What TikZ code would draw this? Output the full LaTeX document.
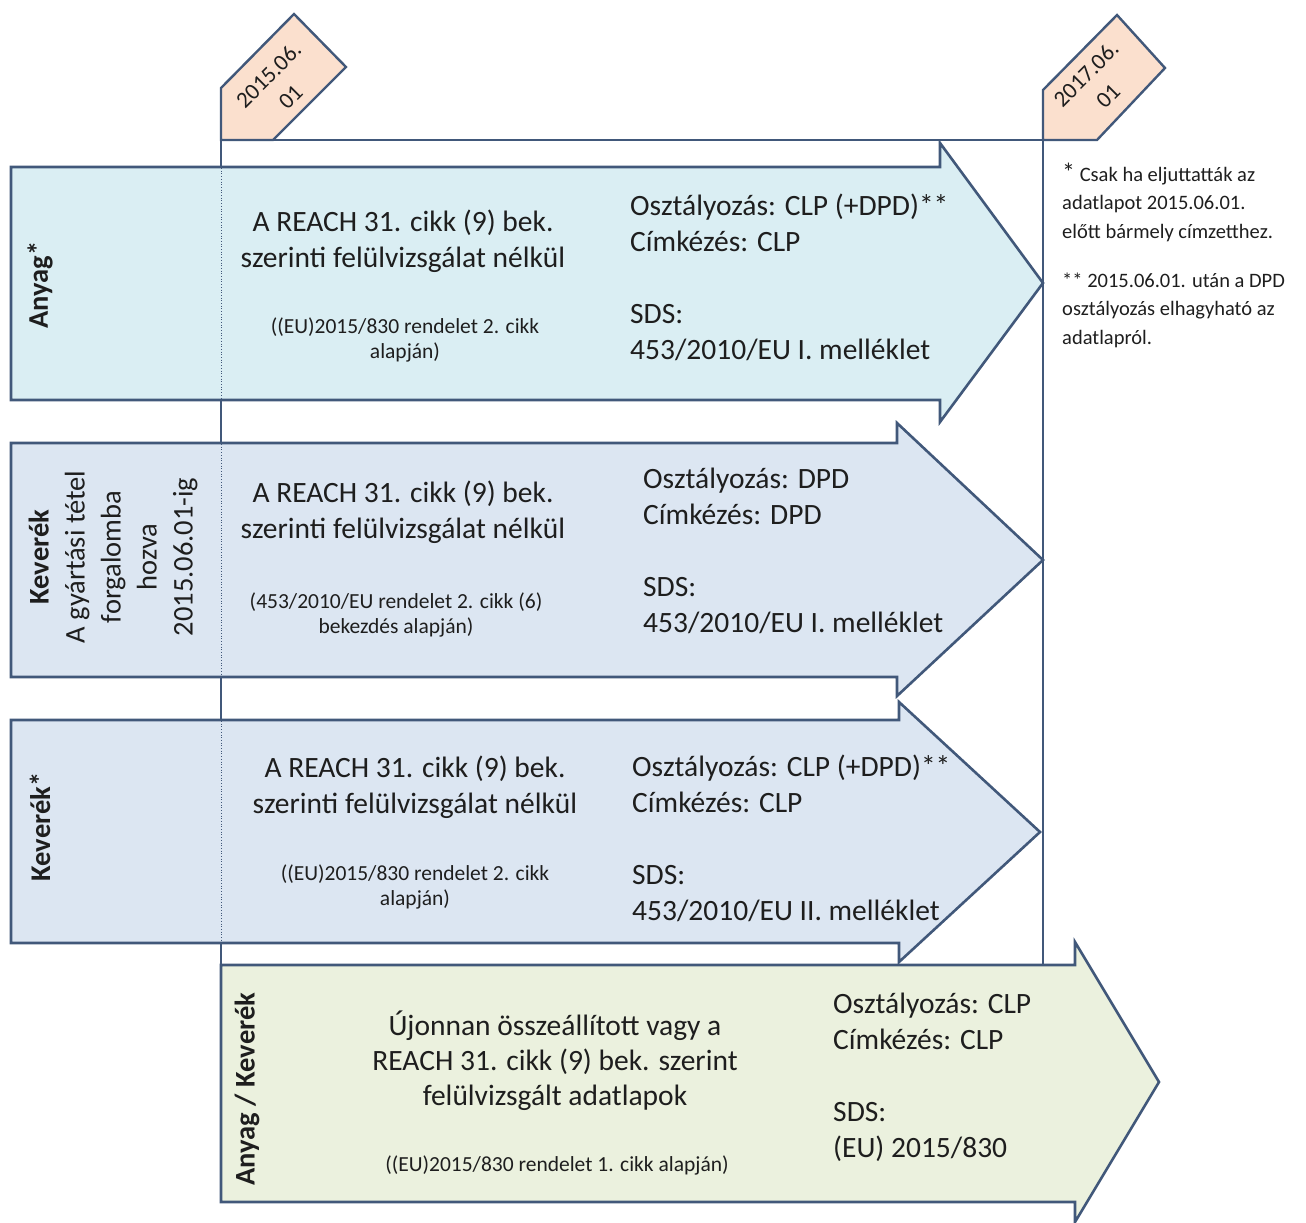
\documentclass[tikz,border=0pt]{standalone}
\usepackage{fontspec}
\setmainfont{Carlito}
\definecolor{linec}{HTML}{41587A}
\definecolor{fillA}{HTML}{DAEEF3}
\definecolor{fillB}{HTML}{DCE6F2}
\definecolor{fillC}{HTML}{EBF1DE}
\definecolor{tagfill}{HTML}{FBE0CE}
\definecolor{txt}{HTML}{1E1E1E}
\begin{document}
\begin{tikzpicture}[x=1pt,y=-1pt,
  frame/.style={draw=linec,line width=2.4pt},
  arrowbox/.style={draw=linec,line width=2.6pt,line join=miter},
  tagbox/.style={draw=linec,line width=2.4pt,fill=tagfill,line join=miter},
  guide/.style={draw=linec,line width=0.7pt,dotted},
  maintxt/.style={text=txt,font=\fontsize{29.5}{36}\selectfont,align=center,inner sep=0pt},
  smalltxt/.style={text=txt,font=\fontsize{21.5}{25}\selectfont,align=center,inner sep=0pt},
  sidetxt/.style={text=txt,font=\fontsize{29.5}{36}\selectfont,align=left,inner sep=0pt,anchor=west},
  labtxt/.style={text=txt,font=\fontsize{28.5}{36}\selectfont,align=center,inner sep=0pt,rotate=90},
  notetxt/.style={text=txt,font=\fontsize{20.5}{28.5}\selectfont,align=left,inner sep=0pt,anchor=west},
  tagtxt/.style={text=txt,font=\fontsize{23}{31}\selectfont,align=center,inner sep=0pt,rotate=45}
]
\useasboundingbox (0,0) rectangle (1306,1223);

% timeline frame
\draw[frame] (221,140) -- (221,965);
\draw[frame] (221,140) -- (1043,140);
\draw[frame] (1043,140) -- (1043,965);

% date tags
\draw[tagbox] (221,140) -- (273,140) -- (346,67) -- (294,14) -- (221,88) -- cycle;
\draw[tagbox] (1043,140) -- (1097,140) -- (1165,68) -- (1117,15) -- (1043,90) -- cycle;
\node[tagtxt] (t1) at (279.5,86) {2015.06.\\01};
\node[tagtxt] (t2) at (1097,85) {2017.06.\\01};

% arrows
\filldraw[arrowbox,fill=fillA] (11,167) -- (940,167) -- (940,143) -- (1043,283) -- (940,422) -- (940,400) -- (11,400) -- cycle;
\filldraw[arrowbox,fill=fillB] (11,443) -- (897,443) -- (897,423) -- (1043,560) -- (897,696) -- (897,677) -- (11,677) -- cycle;
\filldraw[arrowbox,fill=fillB] (11,720) -- (899,720) -- (899,702) -- (1040,832) -- (899,962) -- (899,943) -- (11,943) -- cycle;
\filldraw[arrowbox,fill=fillC] (221,965) -- (1075,965) -- (1075,942) -- (1159,1082) -- (1075,1222) -- (1075,1202) -- (221,1202) -- cycle;

% dotted guide inside arrows
\draw[guide] (221,168) -- (221,399);
\draw[guide] (221,444) -- (221,676);
\draw[guide] (221,721) -- (221,942);

% arrow 1
\node[labtxt,font=\fontsize{28.5}{36}\selectfont\bfseries] (l1) at (40,285) {Anyag*};
\node[maintxt] (m1) at (403,241) {A REACH 31. cikk (9) bek.\\szerinti felülvizsgálat nélkül};
\node[smalltxt] (s1) at (405,340) {((EU)2015/830 rendelet 2. cikk\\alapján)};
\node[sidetxt] (r1) at (630,277) {Osztályozás: CLP (+DPD)**\\Címkézés: CLP\\[36pt]SDS:\\453/2010/EU I. melléklet};

% arrow 2
\node[labtxt] (l2) at (113,557) {\textbf{Keverék}\\A gyártási tétel\\forgalomba\\hozva\\2015.06.01-ig};
\node[maintxt] (m2) at (403,512) {A REACH 31. cikk (9) bek.\\szerinti felülvizsgálat nélkül};
\node[smalltxt] (s2) at (396,615) {(453/2010/EU rendelet 2. cikk (6)\\bekezdés alapján)};
\node[sidetxt] (r2) at (643,551) {Osztályozás: DPD\\Címkézés: DPD\\[36pt]SDS:\\453/2010/EU I. melléklet};

% arrow 3
\node[labtxt,font=\fontsize{28.5}{36}\selectfont\bfseries] (l3) at (40,827) {Keverék*};
\node[maintxt] (m3) at (415,787) {A REACH 31. cikk (9) bek.\\szerinti felülvizsgálat nélkül};
\node[smalltxt] (s3) at (415,887) {((EU)2015/830 rendelet 2. cikk\\alapján)};
\node[sidetxt] (r3) at (632,838) {Osztályozás: CLP (+DPD)**\\Címkézés: CLP\\[36pt]SDS:\\453/2010/EU II. melléklet};

% arrow 4
\node[labtxt,font=\fontsize{28.5}{36}\selectfont\bfseries] (l4) at (247,1089) {Anyag / Keverék};
\node[maintxt,font=\fontsize{29.5}{35}\selectfont] (m4) at (555,1061) {Újonnan összeállított vagy a\\REACH 31. cikk (9) bek. szerint\\felülvizsgált adatlapok};
\node[smalltxt] (s4) at (557,1165) {((EU)2015/830 rendelet 1. cikk alapján)};
\node[sidetxt] (r4) at (833,1077) {Osztályozás: CLP\\Címkézés: CLP\\[36pt]SDS:\\(EU) 2015/830};

% footnotes
\node[notetxt] (n1) at (1062,202) {{\fontsize{26}{28}\selectfont *} Csak ha eljuttatták az\\adatlapot 2015.06.01.\\előtt bármely címzetthez.};
\node[notetxt] (n2) at (1062,310) {** 2015.06.01. után a DPD\\osztályozás elhagyható az\\adatlapról.};
\end{tikzpicture}
\end{document}
